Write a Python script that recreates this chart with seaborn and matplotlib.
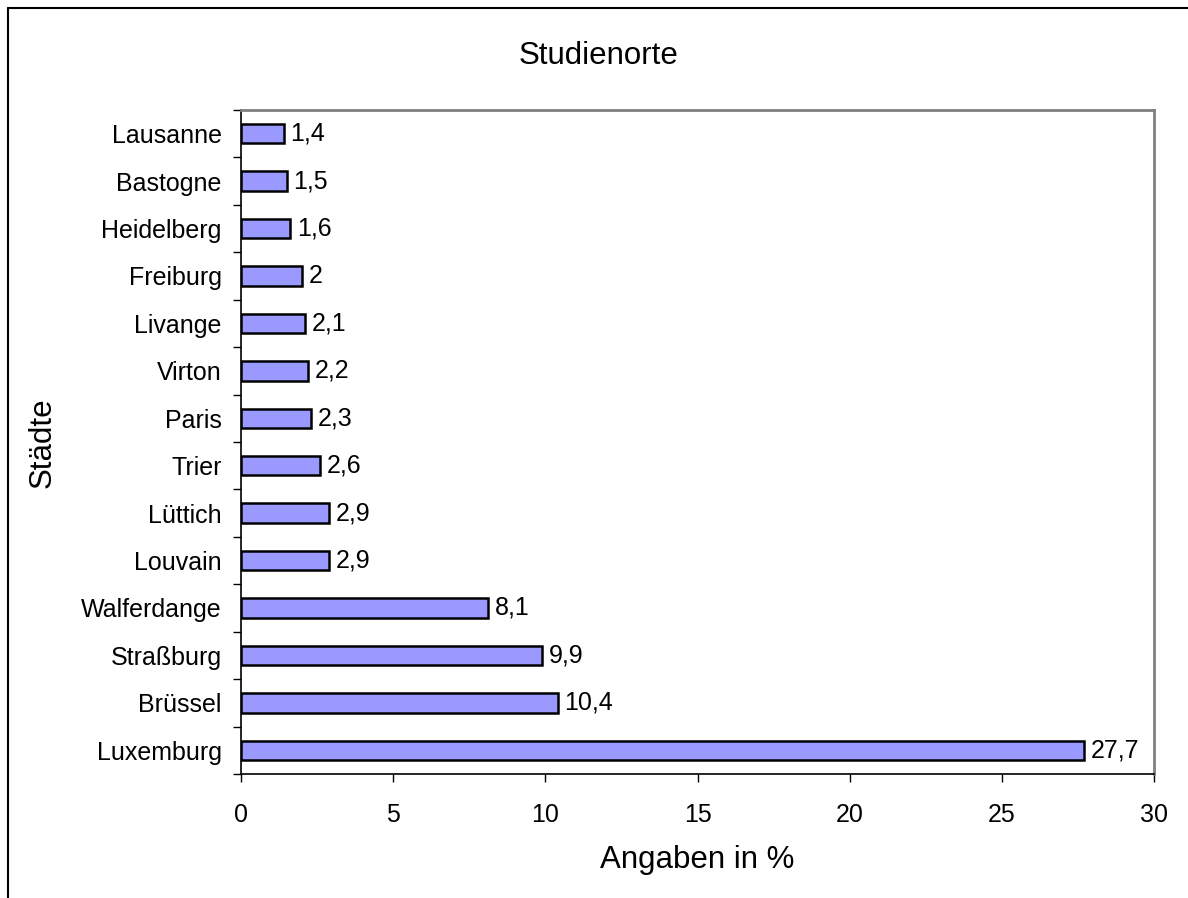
import matplotlib
matplotlib.use("Agg")
import matplotlib.pyplot as plt
import seaborn as sns
import pandas as pd
from matplotlib.lines import Line2D
from matplotlib.ticker import FixedLocator

cities = ["Lausanne", "Bastogne", "Heidelberg", "Freiburg", "Livange", "Virton",
          "Paris", "Trier", "Lüttich", "Louvain", "Walferdange", "Straßburg",
          "Brüssel", "Luxemburg"]
values = [1.4, 1.5, 1.6, 2.0, 2.1, 2.2, 2.3, 2.6, 2.9, 2.9, 8.1, 9.9, 10.4, 27.7]
x_ticks = [0, 5, 10, 15, 20, 25, 30]

df = pd.DataFrame({"Stadt": cities, "Wert": values})

sns.set_theme(style="white")
plt.rcParams["font.family"] = ["Liberation Sans", "DejaVu Sans"]
plt.rcParams["text.color"] = "black"
plt.rcParams["axes.labelcolor"] = "black"
plt.rcParams["xtick.color"] = "black"
plt.rcParams["ytick.color"] = "black"

fig = plt.figure(figsize=(11.88, 8.98), dpi=100)
W, H = 1188, 898
L, R, T, B = 241, 1154, 110, 774
ax = fig.add_axes([L / W, 1 - B / H, (R - L) / W, (B - T) / H])

sns.barplot(data=df, x="Wert", y="Stadt", order=cities, orient="h",
            color="#9999FF", edgecolor="black", linewidth=1.8,
            width=0.41, saturation=1, ax=ax)

labels = [f"{v:g}".replace(".", ",") for v in values]
ax.bar_label(ax.containers[0], labels=labels, padding=5, fontsize=18, color="black")

ax.set_xlim(0, 30)
ax.set_ylim(len(cities) - 0.5, -0.5)
ax.xaxis.set_major_locator(FixedLocator(x_ticks))
ax.set_xticklabels([str(t) for t in x_ticks])
ax.yaxis.set_minor_locator(FixedLocator([i - 0.5 for i in range(len(cities) + 1)]))
ax.tick_params(axis="y", which="major", length=0, labelsize=18, pad=14)
ax.tick_params(axis="y", which="minor", length=6, width=1, color="black",
               direction="out", left=True)
ax.tick_params(axis="x", which="major", length=6, width=1, color="black",
               direction="out", bottom=True, labelsize=18, pad=15)

for side in ["left", "bottom"]:
    ax.spines[side].set_color("black")
    ax.spines[side].set_linewidth(1.2)
for side in ["top", "right"]:
    ax.spines[side].set_color("#808080")
    ax.spines[side].set_linewidth(2)
    ax.spines[side].set_visible(True)

ax.set_xlabel("Angaben in %", fontsize=22.5)
ax.xaxis.label.set_va("center")
ax.xaxis.set_label_coords((697.5 - L) / (R - L), (B - 860) / (B - T))
ax.set_ylabel("Städte", fontsize=22.5)
ax.yaxis.label.set_va("center")
ax.yaxis.set_label_coords((43 - L) / (R - L), (B - 443) / (B - T))

fig.text(599 / W, 1 - 56 / H, "Studienorte", ha="center", va="center", fontsize=22.5)

fig.add_artist(Line2D([8 / W, 8 / W], [0, 1 - 8 / H], color="black", linewidth=1.5,
                      transform=fig.transFigure))
fig.add_artist(Line2D([8 / W, 1], [1 - 8 / H, 1 - 8 / H], color="black", linewidth=1.5,
                      transform=fig.transFigure))

fig.savefig("out.png", dpi=100, facecolor="white")
